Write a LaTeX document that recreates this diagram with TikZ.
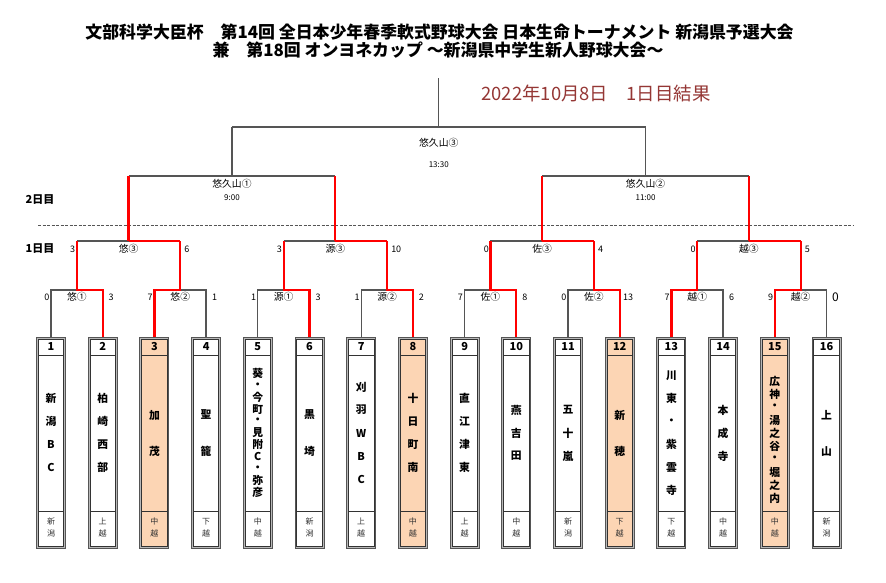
\documentclass[tikz,border=0pt]{standalone}
\usepackage{fontspec}
\setmainfont{Noto Sans CJK JP}
\usetikzlibrary{calc}
\definecolor{lineg}{HTML}{555555}
\definecolor{linered}{HTML}{FF0000}
\definecolor{peach}{HTML}{FCD5B4}
\definecolor{gapg}{HTML}{B8B8B8}
\definecolor{datered}{HTML}{953735}
\definecolor{rgtext}{HTML}{333333}
\newcommand\fsz[1]{\fontsize{#1}{#1}\selectfont}
\tikzset{
  gl/.style={draw=lineg, line width=1.3pt},
  rl/.style={draw=linered, line width=2.2pt, line join=miter},
  tbox/.style={rectangle, draw=lineg, line width=1pt, fill=gapg, minimum width=29pt, minimum height=211pt, inner sep=0pt},
  tnum/.style={font=\fsz{11pt}\bfseries, inner sep=0pt},
  namech/.style={font=\fsz{10.8pt}\bfseries, inner sep=0pt},
  rgch/.style={font=\fsz{8pt}, text=rgtext, inner sep=0pt},
  mlabel/.style={font=\fsz{9.8pt}, inner sep=0pt},
  score/.style={font=\fsz{9pt}, inner sep=0pt},
  daylabel/.style={font=\fsz{11pt}\bfseries, inner sep=0pt},
  titletext/.style={font=\fsz{16.9pt}\bfseries, inner sep=0pt},
}
% #1 index, #2 spacing, #3 count, #4 chars, #5 #6 region chars, #7 fill
\newcommand\teambox[7]{%
  \pgfmathsetmacro\cx{51+51.7*(#1-1)}%
  \node[tbox] (t#1) at (\cx,442.75) {};
  \fill[#7] ([shift={(2.3,2.3)}]t#1.north west) rectangle ([shift={(-2.3,-2.3)}]t#1.south east);
  \draw[draw=rgtext, line width=0.8pt] ([shift={(2.3,2.3)}]t#1.north west) rectangle ([shift={(-2.3,-2.3)}]t#1.south east);
  \draw[draw=rgtext, line width=0.8pt] ([shift={(2.3,0)}]t#1.north west |- 0,355.7) -- ([shift={(-2.3,0)}]t#1.north east |- 0,355.7);
  \draw[draw=rgtext, line width=0.8pt] ([shift={(2.3,0)}]t#1.north west |- 0,511) -- ([shift={(-2.3,0)}]t#1.north east |- 0,511);
  \node[tnum] (num#1) at (\cx,346.5) {#1};
  \foreach \ch [count=\k] in {#4} {
    \node[namech] (n#1-\k) at (\cx,{433+(\k-(#3+1)/2)*#2}) {\ch};
  }
  \node[rgch] (ra#1) at (\cx,521.5) {#5};
  \node[rgch] (rb#1) at (\cx,533.5) {#6};
}
\begin{document}
\begin{tikzpicture}[x=1pt,y=-1pt]
\useasboundingbox (0,0) rectangle (886,582);
\fill[white] (0,0) rectangle (886,582);

% titles
\node[titletext] (title1) at (439.5,32) {文部科学大臣杯　第14回 全日本少年春季軟式野球大会 日本生命トーナメント 新潟県予選大会};
\node[titletext] (title2) at (438,50) {兼　第18回 オンヨネカップ ～新潟県中学生新人野球大会～};
\node[font=\fsz{18.4pt}, text=datered, inner sep=0pt] (date) at (596,93) {2022年10月8日　1日目結果};

% day labels and separator
\node[daylabel] (day2) at (40,200) {2日目};
\node[daylabel] (day1) at (40,249) {1日目};
\coordinate (dashL) at (38,225);
\coordinate (dashR) at (853,225);
\draw[draw=lineg, line width=0.9pt, dash pattern=on 3pt off 1.5pt] (dashL) -- (dashR);

% team boxes
\teambox{1}{23}{4}{新,潟,B,C}{新}{潟}{white}
\teambox{2}{23}{4}{柏,崎,西,部}{上}{越}{white}
\teambox{3}{36}{2}{加,茂}{中}{越}{peach}
\teambox{4}{36}{2}{聖,籠}{下}{越}{white}
\teambox{5}{11.9}{11}{葵,・,今,町,・,見,附,C,・,弥,彦}{中}{越}{white}
\teambox{6}{36}{2}{黒,埼}{新}{潟}{white}
\teambox{7}{23}{5}{刈,羽,W,B,C}{上}{越}{white}
\teambox{8}{23}{4}{十,日,町,南}{中}{越}{peach}
\teambox{9}{23}{4}{直,江,津,東}{上}{越}{white}
\teambox{10}{23}{3}{燕,吉,田}{中}{越}{white}
\teambox{11}{23}{3}{五,十,嵐}{新}{潟}{white}
\teambox{12}{36}{2}{新,穂}{下}{越}{peach}
\teambox{13}{23}{6}{川,東,・,紫,雲,寺}{下}{越}{white}
\teambox{14}{23}{3}{本,成,寺}{中}{越}{white}
\teambox{15}{13}{9}{広,神,・,湯,之,谷,・,堀,之,内}{中}{越}{peach}
\teambox{16}{36}{2}{上,山}{新}{潟}{white}

% round 1 coordinates
\foreach \j in {1,...,8} {
  \pgfmathsetmacro\mx{51+51.7*(2*\j-1.5)}
  \coordinate (p\j) at (\mx,290);
  \coordinate (q\j) at (\mx,241);
}
% round 2 coordinates
\foreach \k in {1,...,4} {
  \pgfmathsetmacro\mx{51+51.7*(4*\k-2.5)}
  \coordinate (s\k) at (\mx,241);
  \coordinate (u\k) at (\mx,176);
}
\coordinate (v1) at (231.95,176);
\coordinate (w1) at (231.95,127);
\coordinate (v2) at (645.55,176);
\coordinate (w2) at (645.55,127);
\coordinate (fin) at (438.75,127);
\coordinate (top) at (438.75,78);

% grey lines
\foreach \j in {1,...,8} {
  \pgfmathtruncatemacro\a{2*\j-1}
  \pgfmathtruncatemacro\b{2*\j}
  \draw[gl] (t\a.north) |- (p\j) -| (t\b.north);
}
\draw[gl] (q1) -- (q2);
\draw[gl] (q3) -- (q4);
\draw[gl] (q5) -- (q6);
\draw[gl] (q7) -- (q8);
\draw[gl] (u1) -- (u2);
\draw[gl] (u3) -- (u4);
\draw[gl] (v1) -- (w1);
\draw[gl] (v2) -- (w2);
\draw[gl] (w1) -- (w2);
\draw[gl] (fin) -- (top);

% red (winner) lines
\foreach \j/\w in {1/2,2/3,3/6,4/8,5/10,6/12,7/13,8/15} {
  \draw[rl] (t\w.north) |- (p\j) -- (q\j);
}
\draw[rl] (s1) -- (q2);
\draw[rl] (s2) -- (q4);
\draw[rl] (s3) -- (q6);
\draw[rl] (s4) -- (q8);
\foreach \k in {1,...,4} { \draw[rl] (s\k) -- (u\k); }

% round 1 labels and scores
\foreach \j/\lab/\sl/\sr in {1/悠①/0/3,2/悠②/7/1,3/源①/1/3,4/源②/1/2,5/佐①/7/8,6/佐②/0/13,7/越①/7/6} {
  \pgfmathsetmacro\xl{51+51.7*(2*\j-2)}
  \pgfmathsetmacro\xr{51+51.7*(2*\j-1)}
  \node[mlabel] (l1-\j) at ($(p\j)+(0,7)$) {\lab};
  \node[score, anchor=east] (sl1-\j) at (\xl-1.5,297) {\sl};
  \node[score] (sr1-\j) at (\xr+8.5,297) {\sr};
}
\node[mlabel] (l1-8) at ($(p8)+(0,7)$) {越②};
\node[score, anchor=east] (sl1-8) at (773.3,297) {9};
\node[font=\fsz{12pt}, inner sep=0pt] (sr1-8) at (835.5,297) {0};

% round 2 labels and scores
\foreach \k/\lab/\sl/\sr in {1/悠③/3/6,2/源③/3/10,3/佐③/0/4,4/越③/0/5} {
  \node[mlabel] (l2-\k) at ($(s\k)+(0,8)$) {\lab};
  \pgfmathtruncatemacro\a{2*\k-1}
  \pgfmathtruncatemacro\b{2*\k}
  \node[score, anchor=east] (sl2-\k) at ($(q\a)+(-1.5,8)$) {\sl};
  \node[score, anchor=west] (sr2-\k) at ($(q\b)+(4,8)$) {\sr};
}

% round 3 and final labels
\node[mlabel] (l3-1) at ($(v1)+(0,8)$) {悠久山①};
\node[font=\fsz{8pt}, inner sep=0pt] (tm3-1) at ($(v1)+(0,22)$) {9:00};
\node[mlabel] (l3-2) at ($(v2)+(0,8)$) {悠久山②};
\node[font=\fsz{8pt}, inner sep=0pt] (tm3-2) at ($(v2)+(0,22)$) {11:00};
\node[mlabel] (l4) at ($(fin)+(0,16)$) {悠久山③};
\node[font=\fsz{8pt}, inner sep=0pt] (tm4) at ($(fin)+(0,38)$) {13:30};
\end{tikzpicture}
\end{document}
